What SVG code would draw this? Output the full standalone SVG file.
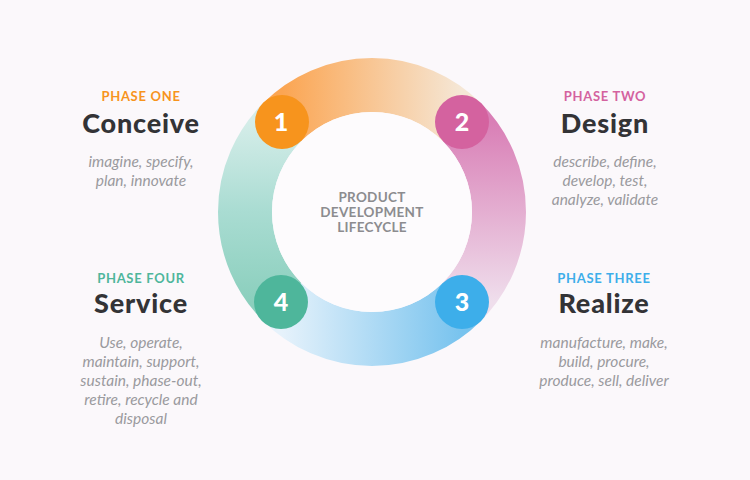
<svg xmlns="http://www.w3.org/2000/svg" width="750" height="480" viewBox="0 0 750 480">
<defs>
<style>
.ph{font-family:"Lato","Open Sans",sans-serif;font-size:13px;font-weight:700;letter-spacing:0.7px;text-anchor:middle}
.tt{font-family:"Lato","Open Sans",sans-serif;font-size:27px;font-weight:900;fill:#333336;text-anchor:middle;letter-spacing:0.8px}
.ds{font-family:"Lato","Open Sans",sans-serif;font-size:15.5px;font-style:italic;fill:#9a9a9e;text-anchor:middle}
.num{font-family:"Lato","Open Sans",sans-serif;font-size:25px;font-weight:900;fill:#ffffff;text-anchor:middle}
.ctr{font-family:"Lato","Open Sans",sans-serif;font-size:13.5px;font-weight:700;fill:#8c8c8f;text-anchor:middle;letter-spacing:0.3px}
.arc{fill:none;stroke-width:54}
</style>
<linearGradient id="gO" gradientUnits="userSpaceOnUse" x1="282" y1="122" x2="462" y2="122">
<stop offset="0" stop-color="#fba552"/><stop offset="1" stop-color="#f5e7d6"/>
</linearGradient>
<linearGradient id="gP" gradientUnits="userSpaceOnUse" x1="462" y1="122" x2="462" y2="302">
<stop offset="0" stop-color="#d97fb6"/><stop offset="1" stop-color="#efdeec"/>
</linearGradient>
<linearGradient id="gB" gradientUnits="userSpaceOnUse" x1="462" y1="302" x2="282" y2="302">
<stop offset="0" stop-color="#78c3ee"/><stop offset="1" stop-color="#e6f2fb"/>
</linearGradient>
<linearGradient id="gT" gradientUnits="userSpaceOnUse" x1="282" y1="302" x2="282" y2="122">
<stop offset="0" stop-color="#8bcfbd"/><stop offset="0.5" stop-color="#a9dcd2"/><stop offset="1" stop-color="#d5ede9"/>
</linearGradient>
</defs>
<rect width="750" height="480" fill="#fbf8fb"/>
<g id="connectors">
<path class="arc" stroke="url(#gO)" d="M282.2,122.2 A127,127 0 0 1 461.8,122.2"/>
<path class="arc" stroke="url(#gP)" d="M461.8,122.2 A127,127 0 0 1 461.8,301.8"/>
<path class="arc" stroke="url(#gB)" d="M461.8,301.8 A127,127 0 0 1 282.2,301.8"/>
<path class="arc" stroke="url(#gT)" d="M282.2,301.8 A127,127 0 0 1 282.2,122.2"/>
</g>
<g id="center">
<circle cx="372" cy="212" r="100" fill="#fdfbfd"/>
<text class="ctr" x="372" y="202">PRODUCT</text>
<text class="ctr" x="372" y="217">DEVELOPMENT</text>
<text class="ctr" x="372" y="232">LIFECYCLE</text>
</g>
<g id="phase1">
<circle cx="282" cy="122" r="27" fill="#f7941d"/>
<text class="num" x="281" y="131">1</text>
<text class="ph" x="141" y="101" fill="#f7941d">PHASE ONE</text>
<text class="tt" x="141" y="133">Conceive</text>
<text class="ds" x="141" y="167">imagine, specify,</text>
<text class="ds" x="141" y="186">plan, innovate</text>
</g>
<g id="phase2">
<circle cx="462" cy="122" r="27" fill="#d4629f"/>
<text class="num" x="462" y="131">2</text>
<text class="ph" x="605" y="101" fill="#d4629f">PHASE TWO</text>
<text class="tt" x="605" y="133">Design</text>
<text class="ds" x="605" y="167">describe, define,</text>
<text class="ds" x="605" y="186">develop, test,</text>
<text class="ds" x="605" y="205">analyze, validate</text>
</g>
<g id="phase3">
<circle cx="462" cy="302" r="27" fill="#3daeea"/>
<text class="num" x="462" y="311">3</text>
<text class="ph" x="604" y="283" fill="#3daeea">PHASE THREE</text>
<text class="tt" x="604" y="313">Realize</text>
<text class="ds" x="604" y="348">manufacture, make,</text>
<text class="ds" x="604" y="367">build, procure,</text>
<text class="ds" x="604" y="386">produce, sell, deliver</text>
</g>
<g id="phase4">
<circle cx="281" cy="302" r="27" fill="#4eb69b"/>
<text class="num" x="281" y="311">4</text>
<text class="ph" x="141" y="283" fill="#4eb69b">PHASE FOUR</text>
<text class="tt" x="141" y="313">Service</text>
<text class="ds" x="141" y="348">Use, operate,</text>
<text class="ds" x="141" y="367">maintain, support,</text>
<text class="ds" x="141" y="386">sustain, phase-out,</text>
<text class="ds" x="141" y="405">retire, recycle and</text>
<text class="ds" x="141" y="424">disposal</text>
</g>
</svg>
